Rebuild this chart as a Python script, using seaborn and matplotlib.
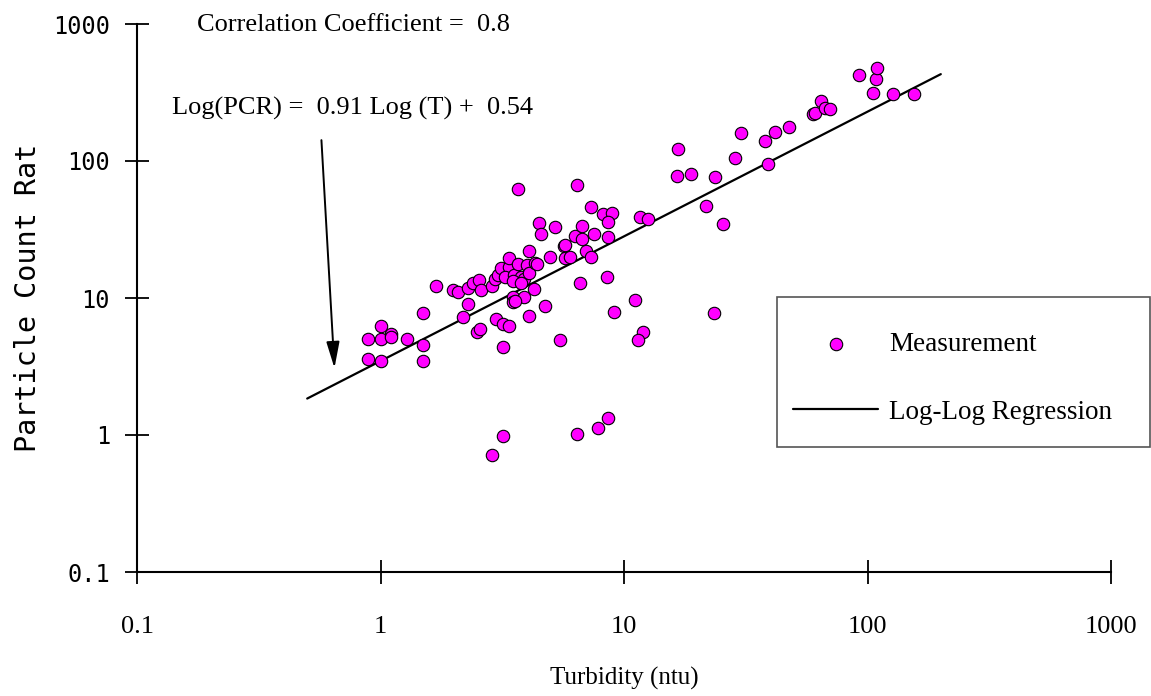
import numpy as np
import pandas as pd
import matplotlib
matplotlib.use("Agg")
import matplotlib.pyplot as plt
import seaborn as sns
from matplotlib.patches import Rectangle

# ---- data ----
turbidity = [
    0.89, 1.0, 1.0, 1.1, 1.1, 1.29, 1.49, 1.49, 0.89, 1.0, 1.49,
    1.69, 1.98, 2.09, 2.19, 2.28, 2.28, 2.39, 2.55, 2.59, 2.48, 2.56,
    2.87, 2.94, 3.05, 3.13, 3.37, 3.37, 3.26, 3.55, 3.66, 3.78, 3.90,
    4.0, 4.06, 4.29, 4.39, 3.49, 3.76, 4.08, 4.28, 3.49, 3.88, 3.49,
    3.58, 4.76, 4.06, 2.97, 3.18, 3.37, 3.17, 3.66, 4.47, 4.55, 4.99,
    5.23, 5.44, 5.66, 5.75, 5.75, 5.99, 6.32, 6.42, 6.57, 6.75, 6.75,
    6.95, 7.33, 7.33, 7.52, 8.2, 8.94, 8.56, 8.56, 8.55, 9.14, 11.1,
    11.6, 12.6, 12.0, 11.4, 3.18, 2.87, 6.42, 7.84, 8.56, 16.5, 16.7,
    18.8, 21.8, 23.7, 23.4, 25.4, 28.7, 30.2, 37.8, 39.2, 41.6, 47.8,
    59.6, 60.6, 64.5, 67.2, 70.3, 92.7, 105.5, 108.0, 109.0, 127.5, 155.0,
]
particle_count = [
    5.0, 5.0, 6.2, 5.5, 5.2, 5.0, 7.8, 4.56, 3.57, 3.47, 3.47,
    12.2, 11.4, 11.1, 7.3, 9.0, 11.8, 12.9, 13.5, 11.4, 5.6, 5.9,
    12.2, 13.8, 14.7, 16.5, 16.9, 19.7, 14.2, 14.7, 17.7, 14.2, 13.7,
    17.4, 15.3, 17.9, 17.7, 13.2, 12.9, 22.2, 11.6, 10.2, 10.2, 9.3,
    9.5, 8.7, 7.35, 7.0, 6.5, 6.2, 4.4, 62.0, 35.3, 29.3, 20.0,
    33.1, 4.9, 23.9, 24.5, 19.6, 20.0, 28.4, 67.0, 12.9, 33.5, 27.0,
    22.1, 19.9, 46.2, 29.2, 41.2, 41.5, 35.8, 27.8, 14.2, 7.9, 9.7,
    39.0, 37.7, 5.6, 4.9, 0.98, 0.71, 1.02, 1.12, 1.33, 78.0, 122.0,
    81.0, 47.0, 77.0, 7.8, 34.7, 105.0, 161.0, 139.0, 95.0, 163.0, 177.0,
    220.0, 224.0, 274.0, 245.0, 238.0, 422.0, 312.0, 397.0, 477.0, 308.0, 308.0,
]
slope = 0.91
intercept = 0.54
fit_range = [0.5, 200.0]
tick_values = [0.1, 1, 10, 100, 1000]
tick_labels = ["0.1", "1", "10", "100", "1000"]

df = pd.DataFrame({"Turbidity": turbidity, "PCR": particle_count})
fit_x = np.array(fit_range)
fit_y = 10 ** (slope * np.log10(fit_x) + intercept)
fit_df = pd.DataFrame({"Turbidity": fit_x, "PCR": fit_y})

sns.set_style("white")
plt.rcParams["font.family"] = ["Liberation Serif", "DejaVu Serif"]
plt.rcParams["text.color"] = "black"
plt.rcParams["axes.labelcolor"] = "black"
plt.rcParams["xtick.color"] = "black"
plt.rcParams["ytick.color"] = "black"

W, H = 1151, 696
fig = plt.figure(figsize=(W / 100, H / 100), dpi=100)
ax = fig.add_axes([137 / W, 124 / H, 974 / W, 548 / H])
ax.set_xscale("log")
ax.set_yscale("log")

sns.scatterplot(data=df, x="Turbidity", y="PCR", ax=ax, color="#FF00FF",
                edgecolor="black", linewidth=0.8, s=80, zorder=3,
                label="Measurement")
sns.lineplot(data=fit_df, x="Turbidity", y="PCR", ax=ax, color="black",
             linewidth=1.6, zorder=2, label="Log-Log Regression")

ax.set_xlim(0.1, 1000)
ax.set_ylim(0.1, 1000)
ax.set_xticks(tick_values)
ax.set_yticks(tick_values)
ax.minorticks_off()
ax.set_xticklabels(tick_labels, family=["Liberation Sans Narrow", "Liberation Serif"], fontsize=19)
ax.set_yticklabels(tick_labels, family=["DejaVu Sans Mono"], fontsize=17)
ax.tick_params(axis="x", bottom=True, direction="inout", length=17, width=1.3,
               pad=23, colors="black")
ax.tick_params(axis="y", left=True, direction="inout", length=17, width=1.3,
               pad=11, colors="black")

for side in ["top", "right"]:
    ax.spines[side].set_visible(False)
for side in ["left", "bottom"]:
    ax.spines[side].set_color("black")
    ax.spines[side].set_linewidth(1.5)

ax.set_xlabel("Turbidity (ntu)", fontsize=18, labelpad=21)
ax.set_ylabel("Particle Count Rat", family=["DejaVu Sans Mono"], fontsize=20.5,
              labelpad=8)

fig.text(197 / W, 1 - 25 / H, "Correlation Coefficient =  0.8", fontsize=19,
         ha="left", va="center")
fig.text(172 / W, 1 - 108 / H, "Log(PCR) =  0.91 Log (T) +  0.54", fontsize=19,
         ha="left", va="center")

ax.annotate("", xy=(0.647, 3.08), xytext=(0.572, 142),
            arrowprops=dict(arrowstyle="-|>,head_length=1.6,head_width=0.4",
                            color="black", lw=1.4, mutation_scale=10,
                            shrinkA=0, shrinkB=0))

fig.patches.append(Rectangle((777 / W, 1 - 447 / H), 373 / W, 150 / H,
                             transform=fig.transFigure, fill=False,
                             edgecolor="#555555", linewidth=1.2, zorder=5))
handles, labels = ax.get_legend_handles_labels()
ax.legend(handles, labels, loc="center left",
          bbox_to_anchor=(793 / W, 1 - 378.5 / H), bbox_transform=fig.transFigure,
          frameon=False, borderpad=0, borderaxespad=0, fontsize=19.5,
          handlelength=3.15, handletextpad=0.4, labelspacing=1.56)

fig.savefig("out.png", dpi=100)
